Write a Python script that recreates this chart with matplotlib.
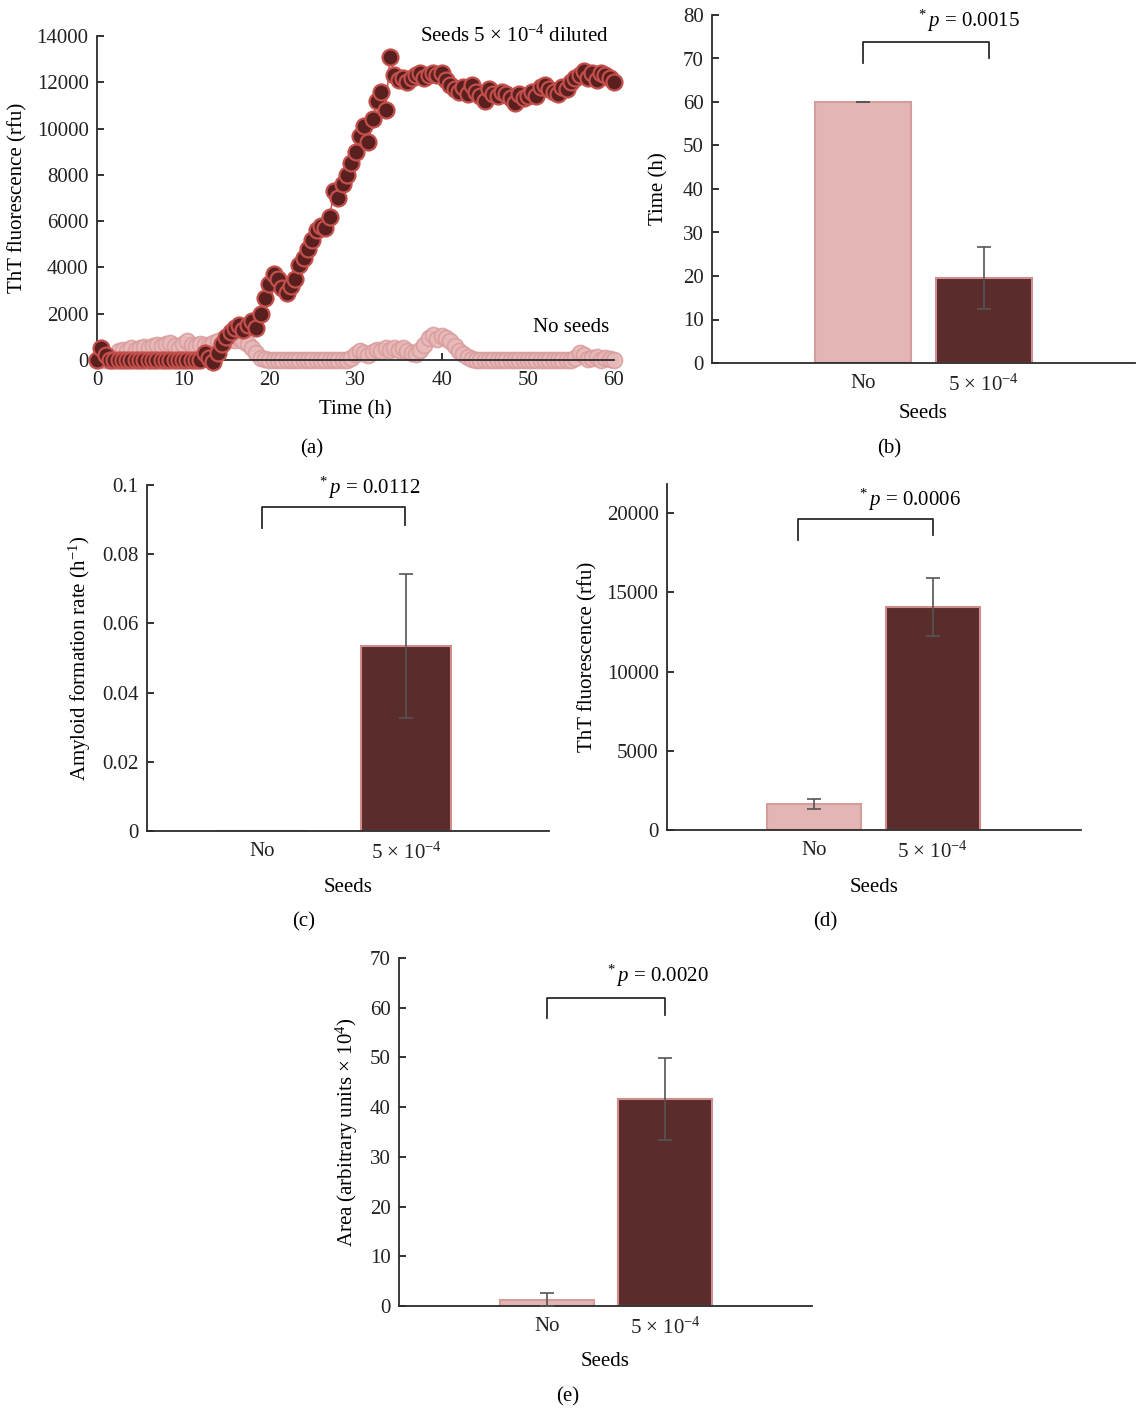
import matplotlib
matplotlib.use("Agg")
import matplotlib.pyplot as plt
import numpy as np

plt.rcParams['font.family'] = ['Liberation Serif', 'DejaVu Serif']
plt.rcParams['mathtext.fontset'] = 'custom'
plt.rcParams['mathtext.rm'] = 'Liberation Serif'
plt.rcParams['mathtext.it'] = 'Liberation Serif:italic'
plt.rcParams['font.size'] = 15
plt.rcParams['axes.unicode_minus'] = True

# --- panel (a): ThT kinetics, one reading every 0.5 h ---
time_h = np.arange(0, 60.5, 0.5)
seeds_rfu = [
    0, 500, 200, 0, 0, 0, 0, 0, 0, 0,                                    # 0.0-4.5
    0, 0, 0, 0, 0, 0, 0, 0, 0, 0,                                        # 5.0-9.5
    0, 0, 0, 0, 0, 300, 100, -100, 300, 700,                             # 10.0-14.5
    1000, 1200, 1400, 1500, 1300, 1500, 1700, 1400, 2000, 2700,          # 15.0-19.5
    3300, 3700, 3500, 3100, 2900, 3200, 3500, 4100, 4400, 4800,          # 20.0-24.5
    5200, 5600, 5800, 5700, 6200, 7300, 7000, 7600, 8000, 8500,          # 25.0-29.5
    9000, 9700, 10100, 9400, 10400, 11200, 11600, 10800, 13100, 12300,   # 30.0-34.5
    12100, 12200, 12000, 12200, 12300, 12400, 12200, 12300, 12400, 12300,  # 35.0-39.5
    12400, 12100, 11900, 11700, 11600, 11800, 11500, 11900, 11600, 11400,  # 40.0-44.5
    11200, 11700, 11500, 11400, 11600, 11500, 11300, 11100, 11500, 11300,  # 45.0-49.5
    11400, 11600, 11400, 11800, 11900, 11700, 11600, 11500, 11800, 11700,  # 50.0-54.5
    12000, 12200, 12300, 12500, 12200, 12400, 12100, 12400, 12300, 12200,  # 55.0-59.5
    12000]                                                               # 60.0
no_seeds_rfu = [
    0, 0, 0, 0, 100, 400, 450, 400, 500, 450,            # 0.0-4.5
    500, 550, 500, 600, 650, 600, 700, 750, 600, 500,    # 5.0-9.5
    700, 800, 650, 600, 700, 650, 600, 750, 800, 700,    # 10.0-14.5
    800, 900, 850, 950, 800, 700, 500, 300, 100, 50,     # 15.0-19.5
    0, 0, 0, 0, 0, 0, 0, 0, 0, 0,                        # 20.0-24.5
    0, 0, 0, 0, 0, 0, 0, 0, 0, 100,                      # 25.0-29.5
    250, 400, 300, 200, 350, 450, 400, 500, 450, 500,    # 30.0-34.5
    450, 500, 400, 300, 250, 450, 650, 950, 1100, 900,   # 35.0-39.5
    1050, 950, 800, 600, 400, 250, 150, 50, 0, 0,        # 40.0-44.5
    0, 0, 0, 0, 0, 0, 0, 0, 0, 0,                        # 45.0-49.5
    0, 0, 0, 0, 0, 0, 0, 0, 0, 0,                        # 50.0-54.5
    0, 100, 300, 200, 50, 100, 150, 0, 100, 50,          # 55.0-59.5
    0]                                                   # 60.0

# --- panels (b)-(e): bar summaries ---
groups = ['No', r'5 × 10$^{-4}$']
lag_time = [60, 19.5]
lag_err = [0.05, 7.1]
growth_rate = [0, 0.0535]
growth_err = [0, 0.0209]
final_tht = [1640, 14070]
final_err = [315, 1830]
area = [1.3, 41.6]
area_err = [1.3, 8.3]
p_values = ['0.0015', '0.0112', '0.0006', '0.0020']

LIGHT = '#e3b5b5'
LIGHT_EDGE = '#d59c9c'
DARK = '#5a2c2b'
DARK_EDGE = '#d18c8c'
AXC = '#2b2b2b'

W, H = 1136, 1412
fig = plt.figure(figsize=(W / 100, H / 100), dpi=100)


def px_axes(left, right, top, bottom):
    ax = fig.add_axes([left / W, (H - bottom) / H, (right - left) / W, (bottom - top) / H])
    ax.px = (left, right, top, bottom)
    return ax


def style(ax):
    for s in ['top', 'right']:
        ax.spines[s].set_visible(False)
    for s in ['left', 'bottom']:
        ax.spines[s].set_color(AXC)
        ax.spines[s].set_linewidth(1.3)
    ax.tick_params(colors='#222222', width=1.3, length=5, direction='in')


def place_labels(ax, xlab, ylab, xlab_y, ylab_x):
    # put axis-label centres at given pixel positions
    left, right, top, bottom = ax.px
    ax.set_xlabel(xlab, va='center')
    ax.set_ylabel(ylab, va='center')
    ax.xaxis.set_label_coords(0.5, (bottom - xlab_y) / (bottom - top))
    ax.yaxis.set_label_coords((ylab_x - left) / (right - left), 0.5)


# panel (a)
ax = px_axes(97, 614, 36, 360)
style(ax)
ax.plot(time_h, no_seeds_rfu, 'o', ms=11.5, mfc='#e8b9b9', mec='#d99c9c', mew=1.3,
        alpha=0.85, clip_on=False, zorder=2)
ax.plot(time_h, seeds_rfu, '-o', color='#c4504c', lw=1, ms=11.5, mfc='#5a1f1f',
        mec='#c4504c', mew=1.6, clip_on=False, zorder=3)
ax.set_xlim(0, 60)
ax.set_ylim(0, 14000)
ax.set_xticks(range(0, 61, 10))
ax.set_yticks(range(0, 14001, 2000))
ax.tick_params(axis='y', pad=6)
ax.tick_params(axis='x', pad=8)
place_labels(ax, 'Time (h)', 'ThT fluorescence (rfu)', 410, 18)
ax.text(59.4, 14000, r'Seeds 5 × 10$^{-4}$ diluted', ha='right', va='center')
ax.text(59.4, 1400, 'No seeds', ha='right', va='center')


def bar_panel(ax, values, errs, width, xlim, ylim, yticks, yticklabels,
              bracket, ptext, pxy):
    style(ax)
    x = np.arange(len(values))
    ax.bar(x, values, width=width, color=[LIGHT, DARK],
           edgecolor=[LIGHT_EDGE, DARK_EDGE], linewidth=1.5, zorder=2)
    for xi, v, e in zip(x, values, errs):
        if e > 0:
            ax.errorbar(xi, v, yerr=e, color='#555555', elinewidth=1.2, capsize=5,
                        capthick=1.2, zorder=3)
    bx0, bx1, yl, ytop, yr = bracket
    ax.plot([bx0, bx0, bx1, bx1], [yl, ytop, ytop, yr], color=AXC, lw=1.3, clip_on=False)
    ax.text(pxy[0], pxy[1], r'$^{*}\,\mathit{p}$ = ' + ptext, ha='center', va='center')
    ax.set_xlim(*xlim)
    ax.set_ylim(*ylim)
    ax.set_xticks(x)
    ax.set_xticklabels(groups)
    ax.tick_params(axis='x', length=0, pad=8)
    ax.set_yticks(yticks)
    ax.set_yticklabels(yticklabels)
    ax.tick_params(axis='y', pad=6)
    return ax


# panel (b)
ax = px_axes(712, 1135, 15, 363)
bar_panel(ax, lag_time, lag_err, 0.79, (-1.248, 2.25), (0, 80),
          range(0, 81, 10), [str(v) for v in range(0, 81, 10)],
          (0, 1.04, 69, 73.8, 70), p_values[0], (0.88, 78.6))
place_labels(ax, 'Seeds', 'Time (h)', 413, 659)

# panel (c)
ax = px_axes(147, 549, 485, 831)
bar_panel(ax, growth_rate, growth_err, 0.625, (-0.799, 1.993), (0, 0.1),
          [0, 0.02, 0.04, 0.06, 0.08, 0.1], ['0', '0.02', '0.04', '0.06', '0.08', '0.1'],
          (0, 0.99, 0.0876, 0.0936, 0.0885), p_values[1], (0.75, 0.0993))
place_labels(ax, 'Seeds', r'Amyloid formation rate (h$^{-1}$)', 888, 80)

# panel (d)
ax = px_axes(667, 1081, 484, 830)
bar_panel(ax, final_tht, final_err, 0.79, (-1.235, 2.244), (0, 21830),
          range(0, 20001, 5000), [str(v) for v in range(0, 20001, 5000)],
          (-0.13, 1.0, 18300, 19620, 18600), p_values[2], (0.81, 20800))
place_labels(ax, 'Seeds', 'ThT fluorescence (rfu)', 888, 588)

# panel (e)
ax = px_axes(399, 812, 958, 1306)
bar_panel(ax, area, area_err, 0.80, (-1.254, 2.246), (0, 70),
          range(0, 71, 10), [str(v) for v in range(0, 71, 10)],
          (0, 1.0, 58, 62, 58.5), p_values[3], (0.94, 66.4))
place_labels(ax, 'Seeds', r'Area (arbitrary units × 10$^{4}$)', 1362, 347)

# panel letters
for lab, xp, yp in [('(a)', 312, 449), ('(b)', 889, 449), ('(c)', 304, 922),
                    ('(d)', 825, 922), ('(e)', 568, 1397)]:
    fig.text(xp / W, 1 - yp / H, lab, ha='center', va='center')

fig.savefig('out.png', dpi=100)
